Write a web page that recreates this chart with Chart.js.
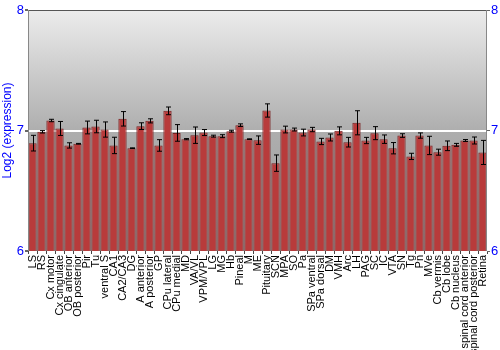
<!DOCTYPE html>
<html>
<head>
<meta charset="utf-8">
<script src="https://cdn.jsdelivr.net/npm/chart.js@4/dist/chart.umd.min.js"></script>
<style>
  html, body { margin: 0; padding: 0; background: #fff; }
  #wrap { width: 500px; height: 350px; }
</style>
</head>
<body>
<div id="wrap"><canvas id="grafico"></canvas></div>
<script>
// regions (x axis)
var regioes = ['LS', 'RS', 'Cx motor', 'Cx cingulate', 'OB anterior', 'OB posterior', 'Pir', 'Tu',
    'ventral S', 'CA1', 'CA2/CA3', 'DG', 'A anterior', 'A posterior', 'GP', 'CPu lateral', 'CPu medial',
    'MD', 'VA/VL', 'VPM/VPL', 'LG', 'MG', 'Hb', 'Pineal', 'M', 'ME', 'Pituitary', 'SCN', 'MPA', 'SO', 'Pa',
    'SPa ventral', 'SPa dorsal', 'DM', 'VMH', 'Arc', 'LH', 'PAG', 'SC', 'IC', 'VTA', 'SN', 'Tg', 'Pn', 'MVe',
    'Cb vermis', 'Cb lobe', 'Cb nucleus', 'spinal cord anterior', 'spinal cord posterior', 'Retina'];

// log2 expression
var valores = [6.895, 6.989, 7.083, 7.017, 6.876, 6.890, 7.025, 7.033, 7.008, 6.876, 7.097, 6.853,
    7.036, 7.080, 6.876, 7.163, 6.980, 6.928, 6.961, 6.983, 6.953, 6.953, 6.994, 7.044, 6.928, 6.920,
    7.166, 6.729, 7.008, 7.008, 6.983, 7.008, 6.909, 6.942, 6.997, 6.903, 7.064, 6.917, 6.978, 6.928,
    6.853, 6.958, 6.785, 6.958, 6.876, 6.820, 6.873, 6.881, 6.917, 6.917, 6.818];

// error (+/-)
var erros = [0.065, 0.010, 0.010, 0.058, 0.022, 0.003, 0.053, 0.052, 0.063, 0.068, 0.060, 0.003,
    0.028, 0.017, 0.048, 0.032, 0.069, 0.005, 0.068, 0.025, 0.008, 0.012, 0.008, 0.011, 0.003, 0.035,
    0.055, 0.068, 0.028, 0.012, 0.028, 0.018, 0.026, 0.029, 0.033, 0.040, 0.100, 0.026, 0.054, 0.035,
    0.047, 0.015, 0.026, 0.022, 0.076, 0.025, 0.040, 0.012, 0.008, 0.029, 0.100];

var yTicks = [6, 7, 8];

var azul = '#0000ff';

// fundo em degrade + moldura
var fundoPlugin = {
    id: 'fundo',
    beforeDraw: function (chart) {
        var a = chart.chartArea, ctx = chart.ctx;
        var g = ctx.createLinearGradient(0, a.top, 0, a.bottom);
        g.addColorStop(0, '#ececec');
        g.addColorStop(0.5, '#aeaeae');
        g.addColorStop(1, '#9a9a9a');
        ctx.save();
        ctx.fillStyle = g;
        ctx.fillRect(a.left, a.top, a.right - a.left, a.bottom - a.top);
        ctx.restore();
    },
    afterDraw: function (chart) {
        var a = chart.chartArea, ctx = chart.ctx;
        ctx.save();
        ctx.lineWidth = 1;
        ctx.strokeStyle = '#555';
        ctx.beginPath();
        ctx.moveTo(a.left, a.top + 0.5);
        ctx.lineTo(a.right, a.top + 0.5);
        ctx.stroke();
        ctx.strokeStyle = '#888';
        ctx.beginPath();
        ctx.moveTo(a.left + 0.5, a.top);
        ctx.lineTo(a.left + 0.5, a.bottom);
        ctx.moveTo(a.right - 0.5, a.top);
        ctx.lineTo(a.right - 0.5, a.bottom);
        ctx.stroke();
        ctx.restore();
    }
};

// barras de erro
var erroPlugin = {
    id: 'erros',
    afterDatasetsDraw: function (chart) {
        var meta = chart.getDatasetMeta(0);
        var y = chart.scales.y, ctx = chart.ctx;
        ctx.save();
        ctx.strokeStyle = '#000';
        ctx.lineWidth = 1;
        meta.data.forEach(function (bar, i) {
            var x = Math.round(bar.x) + 0.5;
            var y1 = y.getPixelForValue(valores[i] + erros[i]);
            var y2 = y.getPixelForValue(valores[i] - erros[i]);
            ctx.beginPath();
            ctx.moveTo(x, y1); ctx.lineTo(x, y2);
            ctx.moveTo(x - 2.5, y1); ctx.lineTo(x + 2.5, y1);
            ctx.moveTo(x - 2.5, y2); ctx.lineTo(x + 2.5, y2);
            ctx.stroke();
        });
        ctx.restore();
    }
};

var config = {
    type: 'bar',
    data: {
        labels: regioes,
        datasets: [{
            data: valores,
            backgroundColor: '#b83b3b',
            borderColor: '#7a2020',
            borderWidth: 1,
            barPercentage: 0.92,
            categoryPercentage: 1.0
        }]
    },
    options: {
        responsive: true,
        maintainAspectRatio: false,
        animation: false,
        layout: { padding: { top: 10, left: 0, right: 0, bottom: 0 } },
        plugins: {
            legend: { display: false },
            tooltip: { enabled: false }
        },
        scales: {
            x: {
                grid: { display: true, drawOnChartArea: false, tickLength: 3, color: '#444' },
                border: { display: false },
                ticks: {
                    autoSkip: false,
                    minRotation: 90,
                    maxRotation: 90,
                    padding: 1,
                    color: '#000',
                    font: { family: 'Liberation Sans', size: 11 }
                },
                afterFit: function (s) { s.height = 99; }
            },
            y: {
                position: 'left',
                min: 6, max: 8,
                afterBuildTicks: function (s) { s.ticks = yTicks.map(function (v) { return { value: v }; }); },
                grid: {
                    color: function (c) { return c.tick && c.tick.value === 7 ? '#ffffff' : 'rgba(0,0,0,0)'; },
                    lineWidth: 2,
                    tickColor: '#666',
                    tickLength: 3
                },
                border: { display: false },
                ticks: {
                    color: azul,
                    padding: 1,
                    font: { family: 'Liberation Sans', size: 13 }
                },
                title: {
                    display: true,
                    text: 'Log2 (expression)',
                    color: azul,
                    padding: 0,
                    font: { family: 'Liberation Sans', size: 12 }
                },
                afterFit: function (s) { s.width = 28; }
            },
            y2: {
                position: 'right',
                min: 6, max: 8,
                afterBuildTicks: function (s) { s.ticks = yTicks.map(function (v) { return { value: v }; }); },
                grid: { drawOnChartArea: false, tickColor: '#666', tickLength: 3 },
                border: { display: false },
                ticks: {
                    color: azul,
                    padding: 1,
                    font: { family: 'Liberation Sans', size: 13 }
                },
                afterFit: function (s) { s.width = 13; }
            }
        }
    },
    plugins: [fundoPlugin, erroPlugin]
};

var ctx = document.getElementById('grafico').getContext('2d');
var grafico = new Chart(ctx, config);
</script>
</body>
</html>
